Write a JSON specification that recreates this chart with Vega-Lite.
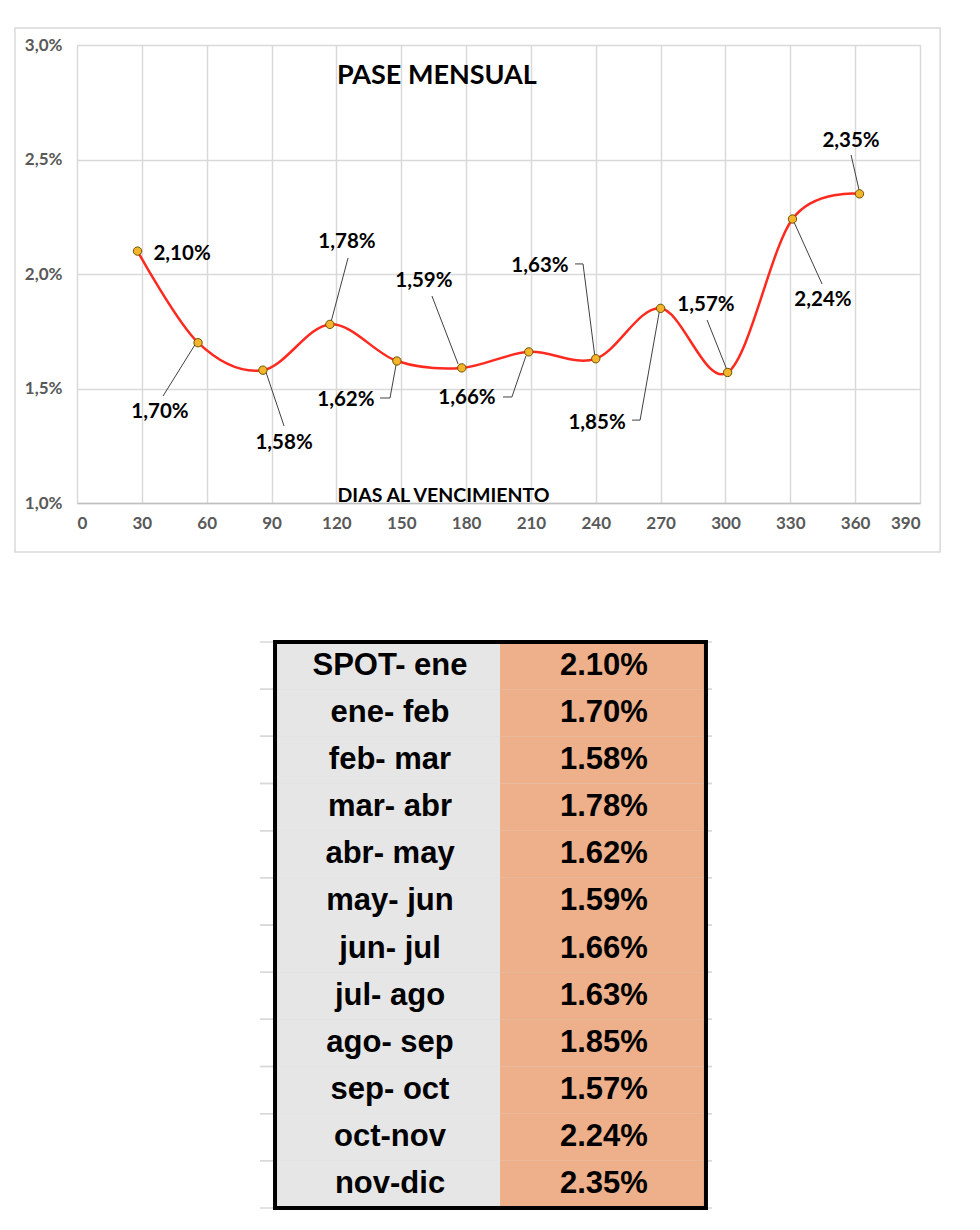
{
  "$schema": "https://vega.github.io/schema/vega-lite/v6.json",
  "background": "white",
  "padding": {"left": 13, "top": 26, "right": 5, "bottom": 5},
  "config": {
    "font": "Lato",
    "view": {"stroke": null},
    "axis": {
      "labelFont": "Lato", "labelFontWeight": "bold", "labelColor": "#595959", "labelFontSize": 17,
      "titleFont": "Lato", "titleFontSize": 19.5, "titleFontWeight": "bold", "titleColor": "#000000",
      "gridColor": "#d9d9d9", "gridWidth": 1.5, "ticks": false
    }
  },
  "datasets": {
    "points": [
      {"day": 28, "pct": 2.10},
      {"day": 56, "pct": 1.70},
      {"day": 86, "pct": 1.58},
      {"day": 117, "pct": 1.78},
      {"day": 148, "pct": 1.62},
      {"day": 178, "pct": 1.59},
      {"day": 209, "pct": 1.66},
      {"day": 240, "pct": 1.63},
      {"day": 270, "pct": 1.85},
      {"day": 301, "pct": 1.57},
      {"day": 331, "pct": 2.24},
      {"day": 362, "pct": 2.35}
    ],
    "labels": [
      {"label": "2,10%", "lx": 48.6, "ly": 2.087},
      {"label": "1,70%", "lx": 38.4, "ly": 1.397},
      {"label": "1,58%", "lx": 95.8, "ly": 1.262},
      {"label": "1,78%", "lx": 124.9, "ly": 2.140},
      {"label": "1,62%", "lx": 124.4, "ly": 1.450},
      {"label": "1,59%", "lx": 160.5, "ly": 1.969},
      {"label": "1,66%", "lx": 180.4, "ly": 1.459},
      {"label": "1,63%", "lx": 214.2, "ly": 2.035},
      {"label": "1,85%", "lx": 240.6, "ly": 1.349},
      {"label": "1,57%", "lx": 291.0, "ly": 1.865},
      {"label": "2,24%", "lx": 345.1, "ly": 1.886},
      {"label": "2,35%", "lx": 358.1, "ly": 2.581}
    ],
    "leaders": [
      {"x1": 39.8, "y1": 1.467, "x2": 55.1, "y2": 1.699},
      {"x1": 95.8, "y1": 1.336, "x2": 87.4, "y2": 1.572},
      {"x1": 125.4, "y1": 2.070, "x2": 117.5, "y2": 1.790},
      {"x1": 140.2, "y1": 1.4585, "x2": 144.8, "y2": 1.4585},
      {"x1": 144.8, "y1": 1.4585, "x2": 147.6, "y2": 1.6026},
      {"x1": 164.2, "y1": 1.904, "x2": 176.3, "y2": 1.607},
      {"x1": 197.1, "y1": 1.463, "x2": 201.2, "y2": 1.463},
      {"x1": 201.2, "y1": 1.463, "x2": 207.7, "y2": 1.642},
      {"x1": 230.4, "y1": 2.044, "x2": 234.1, "y2": 2.044},
      {"x1": 234.1, "y1": 2.044, "x2": 239.6, "y2": 1.638},
      {"x1": 256.8, "y1": 1.362, "x2": 260.5, "y2": 1.362},
      {"x1": 260.5, "y1": 1.362, "x2": 269.7, "y2": 1.852},
      {"x1": 291.5, "y1": 1.799, "x2": 300.7, "y2": 1.581},
      {"x1": 344.7, "y1": 1.956, "x2": 331.7, "y2": 2.227},
      {"x1": 358.1, "y1": 2.520, "x2": 361.8, "y2": 2.367}
    ],
    "table": [
      {"period": "SPOT- ene", "value": "2.10%"},
      {"period": "ene- feb", "value": "1.70%"},
      {"period": "feb- mar", "value": "1.58%"},
      {"period": "mar- abr", "value": "1.78%"},
      {"period": "abr- may", "value": "1.62%"},
      {"period": "may- jun", "value": "1.59%"},
      {"period": "jun- jul", "value": "1.66%"},
      {"period": "jul- ago", "value": "1.63%"},
      {"period": "ago- sep", "value": "1.85%"},
      {"period": "sep- oct", "value": "1.57%"},
      {"period": "oct-nov", "value": "2.24%"},
      {"period": "nov-dic", "value": "2.35%"}
    ]
  },
  "spacing": 86,
  "vconcat": [
    {
      "width": 843,
      "height": 458,
      "view": {"stroke": "#d9d9d9"},
      "layer": [
        {
          "data": {"values": [{"frame": 1}]},
          "mark": {"type": "rect", "fill": null, "stroke": "#d9d9d9", "strokeWidth": 1.5},
          "encoding": {
            "x": {"datum": -28.7, "type": "quantitative"},
            "x2": {"datum": 399.3},
            "y": {"datum": 3.074, "type": "quantitative"},
            "y2": {"datum": 0.786}
          }
        },
        {
          "data": {"name": "points"},
          "mark": {"type": "line", "interpolate": "cardinal", "color": "#ff2a1f", "strokeWidth": 2.5},
          "encoding": {
            "x": {
              "field": "day", "type": "quantitative", "title": "DIAS AL VENCIMIENTO",
              "scale": {"domain": [0, 390], "nice": false, "zero": false},
              "axis": {
                "values": [0, 30, 60, 90, 120, 150, 180, 210, 240, 270, 300, 330, 360, 390],
                "grid": true, "ticks": false, "domain": true, "domainColor": "#bfbfbf", "domainWidth": 1.5,
                "labelPadding": 12,
                "titleX": 366, "titleY": -8, "titleBaseline": "middle"
              }
            },
            "y": {
              "field": "pct", "type": "quantitative", "title": null,
              "scale": {"domain": [1, 3], "nice": false, "zero": false},
              "axis": {
                "values": [1, 1.5, 2, 2.5, 3],
                "labelExpr": "replace(format(datum.value, '.1f'), '.', ',') + '%'",
                "grid": true, "ticks": false, "domain": false,
                "labelPadding": 15
              }
            }
          }
        },
        {
          "data": {"name": "leaders"},
          "mark": {"type": "rule", "color": "#404040", "strokeWidth": 1},
          "encoding": {
            "x": {"field": "x1", "type": "quantitative"},
            "x2": {"field": "x2"},
            "y": {"field": "y1", "type": "quantitative"},
            "y2": {"field": "y2"}
          }
        },
        {
          "data": {"name": "points"},
          "mark": {"type": "point", "filled": true, "fill": "#f4b42c", "stroke": "#6b5200", "strokeWidth": 1, "size": 70, "opacity": 1},
          "encoding": {
            "x": {"field": "day", "type": "quantitative"},
            "y": {"field": "pct", "type": "quantitative"}
          }
        },
        {
          "data": {"name": "labels"},
          "mark": {"type": "text", "font": "Lato", "fontWeight": "bold", "fontSize": 20.5, "color": "#000000", "align": "center", "baseline": "middle"},
          "encoding": {
            "x": {"field": "lx", "type": "quantitative"},
            "y": {"field": "ly", "type": "quantitative"},
            "text": {"field": "label"}
          }
        },
        {
          "data": {"values": [{"t": "PASE MENSUAL"}]},
          "mark": {"type": "text", "font": "Lato", "fontWeight": "bold", "fontSize": 27, "color": "#000000", "align": "center", "baseline": "middle"},
          "encoding": {
            "x": {"datum": 166.5, "type": "quantitative"},
            "y": {"datum": 2.865, "type": "quantitative"},
            "text": {"field": "t"}
          }
        }
      ]
    },
    {
      "width": 843,
      "height": 566,
      "layer": [
        {
          "data": {"name": "table"},
          "mark": {"type": "rule", "color": "#d9d9d9", "strokeWidth": 1.5},
          "encoding": {
            "x": {"datum": 0.2171, "type": "quantitative", "scale": {"domain": [0, 1], "nice": false, "zero": false}, "axis": null},
            "x2": {"datum": 0.7533},
            "y": {"field": "period", "type": "nominal", "sort": null, "bandPosition": 0, "scale": {"paddingInner": 0, "paddingOuter": 0}, "axis": null}
          }
        },
        {
          "data": {"name": "table"},
          "mark": {"type": "rule", "color": "#d9d9d9", "strokeWidth": 1.5},
          "encoding": {
            "x": {"datum": 0.2171, "type": "quantitative", "axis": null},
            "x2": {"datum": 0.7533},
            "y": {"field": "period", "type": "nominal", "sort": null, "bandPosition": 1, "axis": null}
          }
        },
        {
          "data": {"name": "table"},
          "mark": {"type": "rect", "fill": "#e7e6e6"},
          "encoding": {
            "x": {"datum": 0.2349, "type": "quantitative", "axis": null},
            "x2": {"datum": 0.5018},
            "y": {"field": "period", "type": "nominal", "sort": null, "axis": null}
          }
        },
        {
          "data": {"name": "table"},
          "mark": {"type": "rect", "fill": "#edb08a"},
          "encoding": {
            "x": {"datum": 0.5018, "type": "quantitative", "axis": null},
            "x2": {"datum": 0.7461},
            "y": {"field": "period", "type": "nominal", "sort": null, "axis": null}
          }
        },
        {
          "data": {"values": [{"b": 1}]},
          "mark": {"type": "rect", "fill": null, "stroke": "#000000", "strokeWidth": 4},
          "encoding": {
            "x": {"datum": 0.2349, "type": "quantitative", "axis": null},
            "x2": {"datum": 0.7461}
          }
        },
        {
          "data": {"name": "table"},
          "mark": {"type": "text", "font": "Liberation Sans", "fontWeight": "bold", "fontSize": 31, "color": "#000000", "align": "center", "baseline": "middle"},
          "encoding": {
            "x": {"datum": 0.3713, "type": "quantitative", "axis": null},
            "y": {"field": "period", "type": "nominal", "sort": null, "axis": null},
            "text": {"field": "period"}
          }
        },
        {
          "data": {"name": "table"},
          "mark": {"type": "text", "font": "Liberation Sans", "fontWeight": "bold", "fontSize": 31, "color": "#000000", "align": "center", "baseline": "middle"},
          "encoding": {
            "x": {"datum": 0.6251, "type": "quantitative", "axis": null},
            "y": {"field": "period", "type": "nominal", "sort": null, "axis": null},
            "text": {"field": "value"}
          }
        }
      ]
    }
  ]
}
